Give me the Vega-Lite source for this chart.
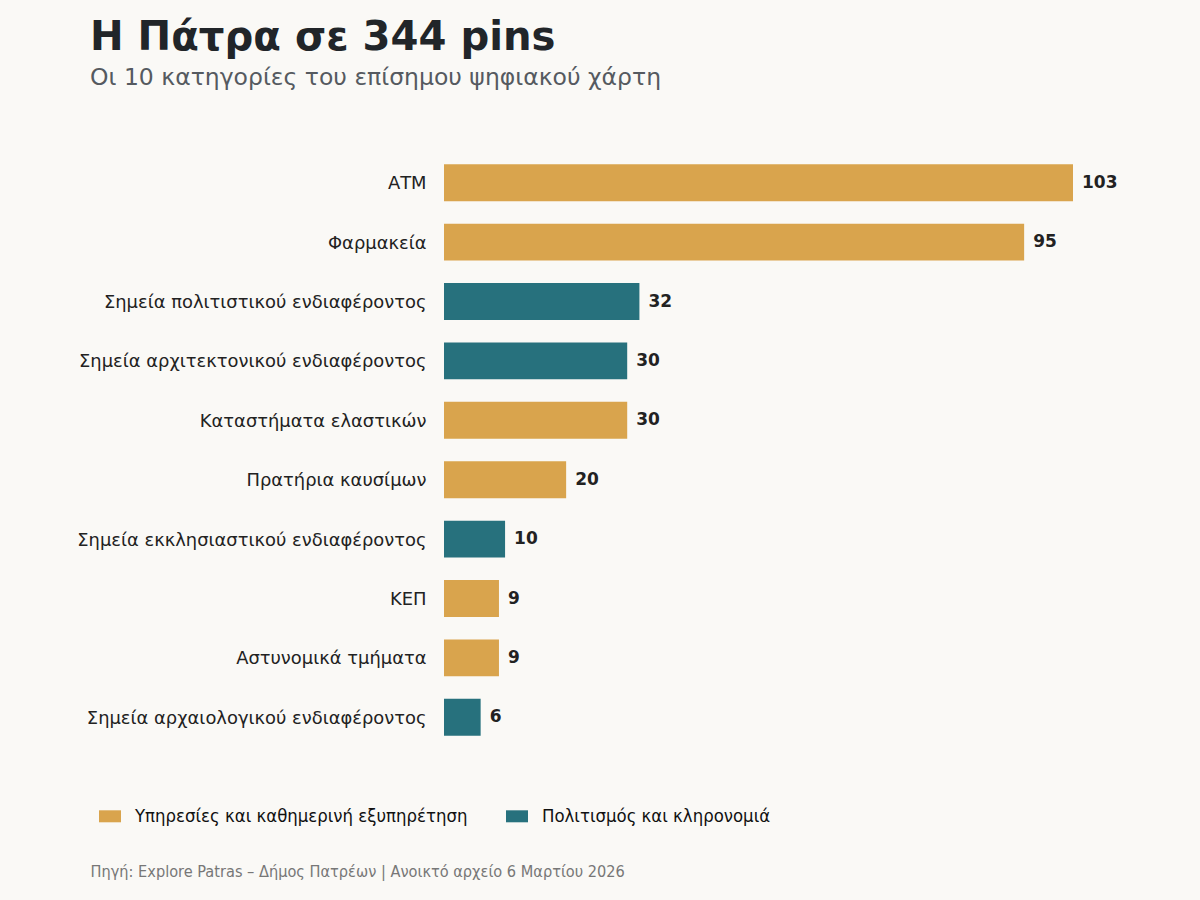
{
  "$schema": "https://vega.github.io/schema/vega-lite/v6.json",
  "autosize": {"type": "none"},
  "padding": {"left": 444, "top": 153, "right": 127, "bottom": 153},
  "width": 629,
  "height": 594,
  "background": "#FAF9F6",
  "title": {
    "text": "Η Πάτρα σε 344 pins",
    "subtitle": "Οι 10 κατηγορίες του επίσημου ψηφιακού χάρτη",
    "anchor": "start",
    "frame": "group",
    "dx": -354,
    "offset": 64,
    "font": "DejaVu Sans",
    "fontSize": 40.2,
    "fontWeight": "bold",
    "color": "#212529",
    "subtitleFont": "DejaVu Sans",
    "subtitleFontSize": 23.5,
    "subtitleColor": "#555A60",
    "subtitlePadding": 7
  },
  "data": {
    "values": [
      {"category": "ΑΤΜ", "count": 103, "group": "Υπηρεσίες και καθημερινή εξυπηρέτηση"},
      {"category": "Φαρμακεία", "count": 95, "group": "Υπηρεσίες και καθημερινή εξυπηρέτηση"},
      {"category": "Σημεία πολιτιστικού ενδιαφέροντος", "count": 32, "group": "Πολιτισμός και κληρονομιά"},
      {"category": "Σημεία αρχιτεκτονικού ενδιαφέροντος", "count": 30, "group": "Πολιτισμός και κληρονομιά"},
      {"category": "Καταστήματα ελαστικών", "count": 30, "group": "Υπηρεσίες και καθημερινή εξυπηρέτηση"},
      {"category": "Πρατήρια καυσίμων", "count": 20, "group": "Υπηρεσίες και καθημερινή εξυπηρέτηση"},
      {"category": "Σημεία εκκλησιαστικού ενδιαφέροντος", "count": 10, "group": "Πολιτισμός και κληρονομιά"},
      {"category": "ΚΕΠ", "count": 9, "group": "Υπηρεσίες και καθημερινή εξυπηρέτηση"},
      {"category": "Αστυνομικά τμήματα", "count": 9, "group": "Υπηρεσίες και καθημερινή εξυπηρέτηση"},
      {"category": "Σημεία αρχαιολογικού ενδιαφέροντος", "count": 6, "group": "Πολιτισμός και κληρονομιά"}
    ]
  },
  "encoding": {
    "y": {
      "field": "category",
      "type": "nominal",
      "sort": ["ΑΤΜ", "Φαρμακεία", "Σημεία πολιτιστικού ενδιαφέροντος", "Σημεία αρχιτεκτονικού ενδιαφέροντος", "Καταστήματα ελαστικών", "Πρατήρια καυσίμων", "Σημεία εκκλησιαστικού ενδιαφέροντος", "ΚΕΠ", "Αστυνομικά τμήματα", "Σημεία αρχαιολογικού ενδιαφέροντος"],
      "scale": {"paddingInner": 0.378, "paddingOuter": 0.189},
      "axis": {
        "title": null,
        "ticks": false,
        "domain": false,
        "labelPadding": 18,
        "labelOffset": 1.5,
        "labelFont": "DejaVu Sans",
        "labelFontSize": 17.9,
        "labelColor": "#222222",
        "labelLimit": 500
      }
    },
    "x": {
      "field": "count",
      "type": "quantitative",
      "scale": {"domain": [0, 103], "nice": false},
      "axis": {
        "labels": false,
        "ticks": false,
        "domain": false,
        "grid": false,
        "title": "Πηγή: Explore Patras – Δήμος Πατρέων | Ανοικτό αρχείο 6 Μαρτίου 2026",
        "titleFont": "DejaVu Sans Condensed",
        "titleFontSize": 16.2,
        "titleFontWeight": "normal",
        "titleColor": "#777777",
        "titleAnchor": "start",
        "titleAlign": "left",
        "titleBaseline": "middle",
        "titleX": -354,
        "titleY": 124
      }
    }
  },
  "layer": [
    {
      "mark": {"type": "bar"},
      "encoding": {
        "color": {
          "field": "group",
          "type": "nominal",
          "scale": {
            "domain": ["Υπηρεσίες και καθημερινή εξυπηρέτηση", "Πολιτισμός και κληρονομιά"],
            "range": ["#D9A44D", "#27717D"]
          },
          "legend": {
            "title": null,
            "orient": "none",
            "direction": "horizontal",
            "legendX": -345,
            "legendY": 652,
            "padding": 0,
            "symbolType": "M-1,-0.545H1V0.545H-1Z",
            "symbolSize": 484,
            "symbolStrokeWidth": 0,
            "symbolOpacity": 1,
            "labelOffset": 14,
            "columnPadding": 38,
            "labelFont": "DejaVu Sans Condensed",
            "labelFontSize": 18.4,
            "labelColor": "#111111",
            "labelLimit": 500
          }
        }
      }
    },
    {
      "mark": {"type": "text", "align": "left", "baseline": "middle", "dx": 9, "font": "DejaVu Sans", "fontSize": 17, "fontWeight": "bold", "color": "#222222"},
      "encoding": {"text": {"field": "count", "type": "quantitative"}}
    }
  ],
  "config": {"view": {"stroke": null}}
}
